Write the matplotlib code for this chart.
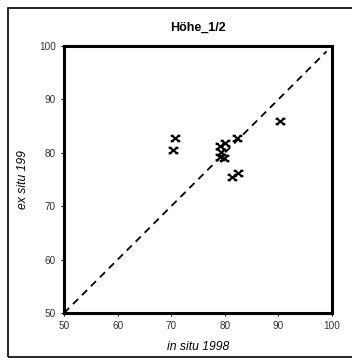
import matplotlib
matplotlib.use("Agg")
import matplotlib.pyplot as plt
from matplotlib.patches import Rectangle
from matplotlib.path import Path

plt.rcParams['font.family'] = ['Liberation Sans', 'DejaVu Sans']

# in situ 1998 vs ex situ 1999
in_situ = [70.7, 70.3, 79.1, 80.0, 79.3, 79.1, 79.85, 82.2, 81.4, 82.5, 90.3]
ex_situ = [82.7, 80.5, 81.3, 81.9, 80.2, 79.3, 79.0, 82.7, 75.5, 76.2, 86.0]
ticks = [50, 60, 70, 80, 90, 100]

# x with small serifs at each tip (like the excel marker)
star = Path([(-1, -0.8), (1, 0.8), (-1, 0.8), (1, -0.8),
             (-1.4, 0.8), (-0.6, 0.8), (0.6, 0.8), (1.4, 0.8),
             (-1.4, -0.8), (-0.6, -0.8), (0.6, -0.8), (1.4, -0.8)],
            [Path.MOVETO, Path.LINETO] * 6)

fig = plt.figure(figsize=(3.52, 3.58), dpi=100)
ax = fig.add_axes([0.182, 0.1257, 0.761, 0.7458])

# outer chart frame
fig.patches.append(Rectangle((0.0227, 0.003), 1.2, 0.975, transform=fig.transFigure,
                             fill=False, edgecolor='black', linewidth=1.2))

ax.plot([50, 99], [50, 99], linestyle=(0, (4, 3)), color='black', linewidth=1.3)
ax.plot(in_situ, ex_situ, linestyle='none', marker=star, markersize=7,
        markerfacecolor='none', markeredgecolor='black', markeredgewidth=1.5, zorder=3)

ax.set_xlim(50, 100)
ax.set_ylim(50, 100)
ax.set_xticks(ticks)
ax.set_yticks(ticks)
ax.tick_params(labelsize=7.2, labelcolor='#333333', length=2, width=0.8, pad=4)
for s in ax.spines.values():
    s.set_linewidth(2.2)

ax.set_title("Höhe_1/2", fontsize=9, fontweight='bold', pad=11)
ax.set_xlabel("in situ 1998", fontsize=8.7, style='italic', labelpad=7)
ax.set_ylabel("ex situ 199", fontsize=8.7, style='italic', labelpad=7)

fig.savefig("out.png", dpi=100)
